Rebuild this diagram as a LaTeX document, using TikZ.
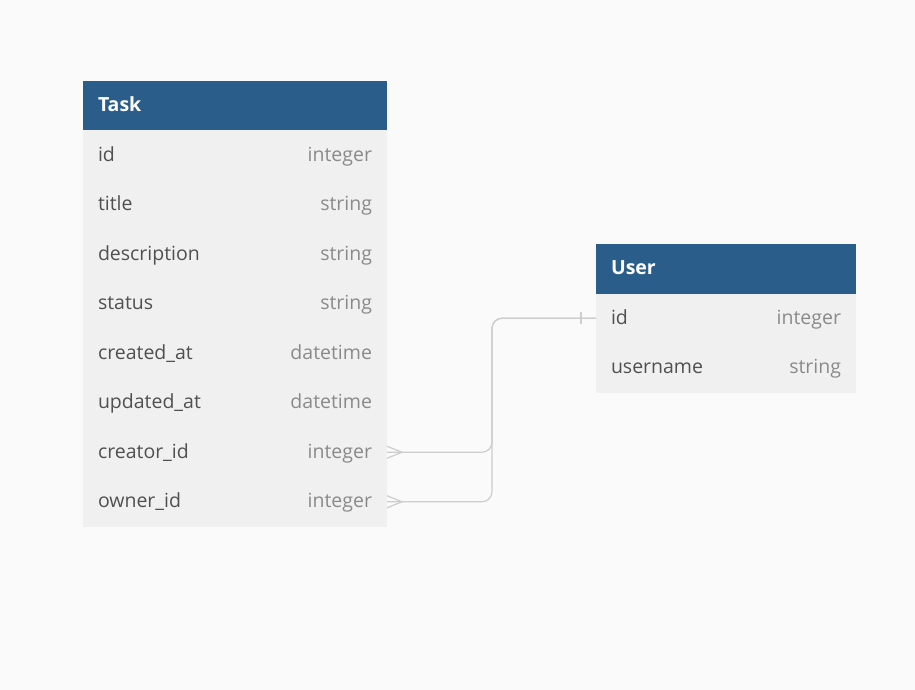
\documentclass[tikz,border=0pt]{standalone}
\usepackage{fontspec}
\setmainfont{Open Sans}
\usetikzlibrary{positioning, calc}

\definecolor{hdrblue}{RGB}{42,93,138}
\definecolor{rowgray}{RGB}{240,240,240}
\definecolor{bggray}{RGB}{250,250,250}
\definecolor{namegray}{RGB}{80,80,80}
\definecolor{typegray}{RGB}{138,138,138}
\definecolor{linegray}{RGB}{205,205,205}

\begin{document}
\begin{tikzpicture}[x=1pt, y=-1pt, node distance=0pt,
	every node/.style={outer sep=0pt, font=\fontsize{19.5}{22}\selectfont},
	hdr/.style={fill=hdrblue, text=white, font=\fontsize{19.5}{22}\selectfont\bfseries, anchor=north west, minimum height=49.5pt, inner xsep=15pt, align=left, text height=15pt, text depth=3pt},
	row/.style={fill=rowgray, text=namegray, anchor=north west, minimum height=49.5pt, inner xsep=15pt, align=left, text height=15pt, text depth=3pt},
	typ/.style={text=typegray, anchor=east, inner xsep=15pt, text height=15pt, text depth=3pt},
	conn/.style={draw=linegray, line width=1.2pt, rounded corners=10pt}]
	\fill[bggray] (0,0) rectangle (915,690);
	\useasboundingbox (0,0) rectangle (915,690);

	% Task table
	\node[hdr, text width=274pt] (task) at (83,81) {Task};
	\foreach \f/\t [count=\i] in {id/integer, title/string, description/string, status/string, created_at/datetime, updated_at/datetime, creator_id/integer, owner_id/integer} {
		\node[row, text width=274pt] (task_\f) at (83,{130.5+(\i-1)*49.5}) {\expandafter\detokenize\expandafter{\f}};
		\node[typ] (task_\f_type) at (task_\f.east) {\t};
	}

	% User table
	\node[hdr, text width=230pt] (user) at (596,244) {User};
	\foreach \f/\t [count=\i] in {id/integer, username/string} {
		\node[row, text width=230pt] (user_\f) at (596,{293.5+(\i-1)*49.5}) {\f};
		\node[typ] (user_\f_type) at (user_\f.east) {\t};
	}

	% relations
	\coordinate (bend) at (492,385);
	\foreach \src in {task_creator_id, task_owner_id} {
		\draw[conn] (\src.east) -- (bend |- \src.east) -- (bend |- user_id.west) -- (user_id.west);
		\draw[linegray, line width=1.2pt] (\src.east) ++(0,-6) -- ++(15,6) -- ++(-15,6);
	}
	\draw[linegray, line width=1.2pt] ([xshift=-15pt]user_id.west) ++(0,-6) -- ++(0,12);
\end{tikzpicture}
\end{document}
